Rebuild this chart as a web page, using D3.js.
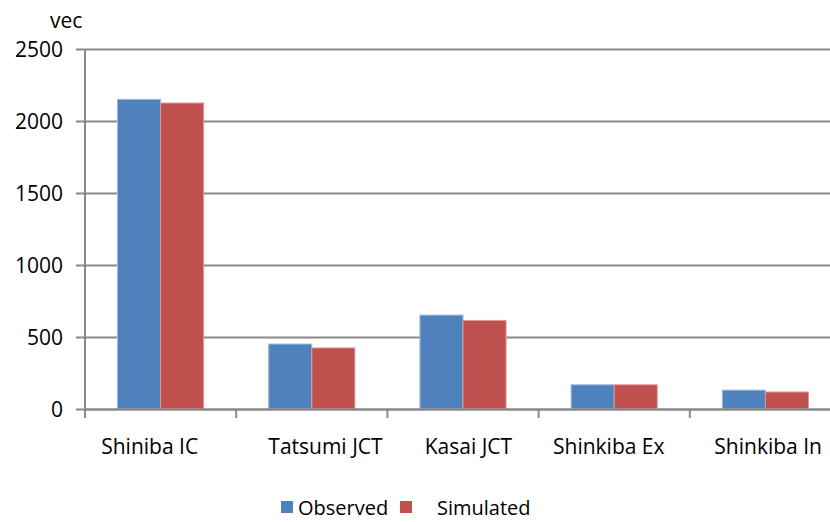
<!DOCTYPE html>
<html>
<head>
<meta charset="utf-8">
<script src="https://cdn.jsdelivr.net/npm/d3@7"></script>
<style>
  body { margin: 0; background: #fff; }
  text { font-family: "Open Sans", "Noto Sans", sans-serif; fill: #000; }
</style>
</head>
<body>
<div id="chart"></div>
<script>
// data (labels keep the spacing seen in the original)
var categories = ["Shiniba IC    ", "     Tatsumi JCT", "  Kasai JCT", "Shinkiba Ex  ", " Shinkiba In"]
var series = ["Observed", "Simulated"]
var observed = [2150, 451, 652, 168, 131]
var simulated = [2125, 424, 615, 168, 118]
var yTicks = [0, 500, 1000, 1500, 2000, 2500]
var colors = ["#4f81bd", "#c0504d"]
var strokes = ["#9db8da", "#de9a98"]

var width = 830, height = 522
var margin = {left: 85, top: 49, right: -11, bottom: 113}

var svg = d3.select("#chart").append("svg")
    .attr("width", width)
    .attr("height", height)

var x = d3.scaleBand()
    .domain(categories)
    .range([margin.left, width - margin.right])

var xs = d3.scaleBand()
    .domain(series)
    .range([0, x.bandwidth()])
    .paddingOuter(0.755)

var y = d3.scaleLinear()
    .domain([0, 2500])
    .range([height - margin.bottom, margin.top])

// gridlines + y ticks
var yAxis = d3.axisLeft(y)
    .tickValues(yTicks)
    .tickFormat(d3.format("d"))
    .tickSize(-(width - margin.right - margin.left))
    .tickSizeOuter(0)
    .tickPadding(22)

var gy = svg.append("g")
    .attr("transform", "translate(" + margin.left + ",0)")
    .call(yAxis)
gy.select(".domain").remove()
gy.selectAll(".tick line")
    .attr("x1", -9)
    .attr("stroke", "#898989")
    .attr("stroke-width", 2)
gy.selectAll(".tick text")
    .style("font-size", "21px")
    .attr("dy", "0.36em")

// bars
var rows = categories.map(function(c, i) {
  return {cat: c, values: [observed[i], simulated[i]]}
})

var groups = svg.selectAll("g.cat")
    .data(rows)
    .enter().append("g")
    .attr("class", "cat")
    .attr("transform", function(d) { return "translate(" + x(d.cat) + ",0)" })

groups.selectAll("rect")
    .data(function(d) { return d.values.map(function(v, j) { return {s: series[j], v: v, j: j} }) })
    .enter().append("rect")
    .attr("x", function(d) { return xs(d.s) })
    .attr("width", xs.bandwidth())
    .attr("y", function(d) { return y(d.v) })
    .attr("height", function(d) { return y(0) - y(d.v) })
    .attr("fill", function(d) { return colors[d.j] })
    .attr("stroke", function(d) { return strokes[d.j] })
    .attr("stroke-width", 1)

// y axis line
svg.append("line")
    .attr("x1", margin.left).attr("x2", margin.left)
    .attr("y1", y(2500)).attr("y2", y(0) + 9)
    .attr("stroke", "#898989")
    .attr("stroke-width", 2)

// x axis
var xAxis = d3.axisBottom(x).tickSize(0).tickPadding(30)
var gx = svg.append("g")
    .attr("transform", "translate(0," + y(0) + ")")
    .call(xAxis)
gx.select(".domain")
    .attr("stroke", "#898989")
    .attr("stroke-width", 2)
gx.selectAll(".tick text")
    .style("font-size", "21px")
    .style("white-space", "pre")
    .attr("xml:space", "preserve")

// category separators
svg.selectAll("line.sep")
    .data(categories)
    .enter().append("line")
    .attr("class", "sep")
    .attr("x1", function(d) { return x(d) })
    .attr("x2", function(d) { return x(d) })
    .attr("y1", y(0))
    .attr("y2", y(0) + 9)
    .attr("stroke", "#898989")
    .attr("stroke-width", 2)

// axis title
svg.append("text")
    .attr("x", 50)
    .attr("y", 28)
    .style("font-size", "21px")
    .text("vec")

// legend
var legendX = [281, 400]
var legendTextX = [298, 437]
var legend = svg.selectAll("g.legend")
    .data(series)
    .enter().append("g")
    .attr("class", "legend")

legend.append("rect")
    .attr("x", function(d, i) { return legendX[i] })
    .attr("y", 501)
    .attr("width", 12)
    .attr("height", 12)
    .attr("fill", function(d, i) { return colors[i] })

legend.append("text")
    .attr("x", function(d, i) { return legendTextX[i] })
    .attr("y", 515)
    .style("font-size", "20px")
    .text(function(d) { return d })
</script>
</body>
</html>
